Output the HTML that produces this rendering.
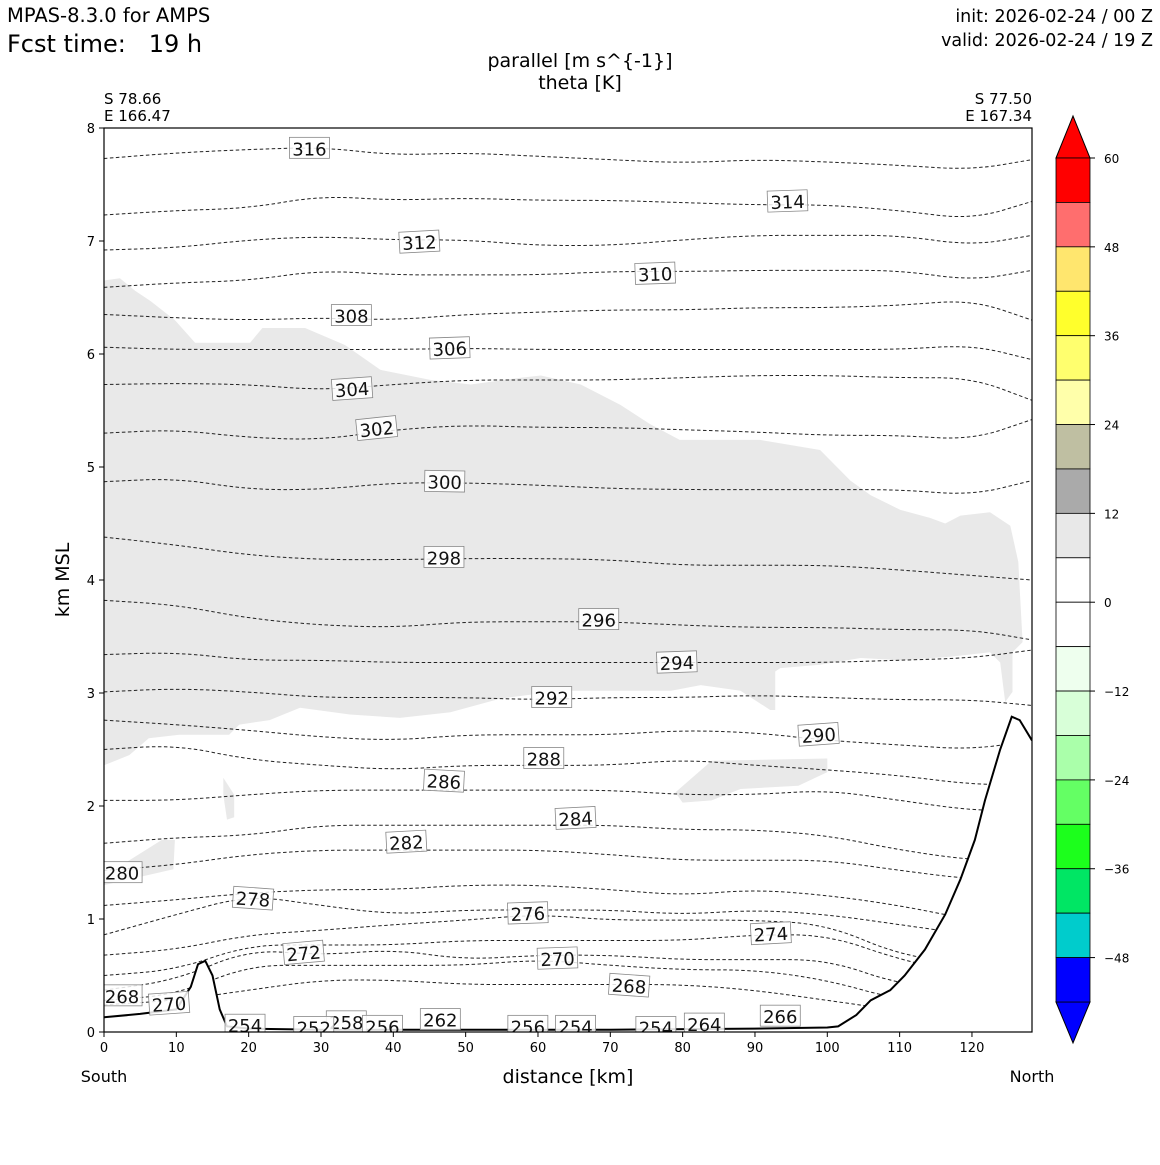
<!DOCTYPE html>
<html><head><meta charset="utf-8"><style>
body{margin:0;background:#fff;}
svg{font-family:"DejaVu Sans","Liberation Sans",sans-serif;}
</style></head><body>
<svg id="fig" width="1160" height="1160" viewBox="0 0 1160 1160">
<rect width="1160" height="1160" fill="#fff"/>
<text x="7" y="22" font-size="19.5">MPAS-8.3.0 for AMPS</text>
<text x="7" y="52" font-size="24" xml:space="preserve">Fcst time:   19 h</text>
<text x="1153" y="22" font-size="17.5" text-anchor="end">init: 2026-02-24 / 00 Z</text>
<text x="1153" y="46" font-size="17.5" text-anchor="end">valid: 2026-02-24 / 19 Z</text>
<text x="580" y="67" font-size="19" text-anchor="middle">parallel [m s^{-1}]</text>
<text x="580" y="89" font-size="19" text-anchor="middle">theta [K]</text>
<text x="104" y="104" font-size="15">S 78.66</text>
<text x="104" y="121" font-size="15">E 166.47</text>
<text x="1032" y="104" font-size="15" text-anchor="end">S 77.50</text>
<text x="1032" y="121" font-size="15" text-anchor="end">E 167.34</text>
<text x="69" y="580" font-size="19" text-anchor="middle" transform="rotate(-90 69 580)">km MSL</text>
<text x="568" y="1083" font-size="19" text-anchor="middle">distance [km]</text>
<text x="104" y="1082" font-size="16" text-anchor="middle">South</text>
<text x="1032" y="1082" font-size="16" text-anchor="middle">North</text>
<g id="plot"></g>
<g id="cbar"></g>
</svg>
<script>
const xKm = [0,10,20,30,40,50,60,70,80,90,100,110,120,128.3];
const thetaLevels = [316,314,312,310,308,306,304,302,300,298,296,294,292,290,288,286,284,282,280,278,276,274,272,270,268];
const thetaHeights = [
[7.73,7.78,7.81,7.83,7.76,7.78,7.75,7.72,7.69,7.72,7.70,7.67,7.63,7.72],
[7.23,7.27,7.29,7.40,7.36,7.38,7.36,7.36,7.34,7.32,7.32,7.27,7.19,7.35],
[6.92,6.94,7.01,7.04,7.01,7.01,6.96,6.96,7.01,7.05,7.05,7.05,6.96,7.05],
[6.59,6.63,6.65,6.74,6.70,6.70,6.70,6.73,6.73,6.74,6.74,6.74,6.65,6.74],
[6.35,6.32,6.30,6.32,6.30,6.35,6.37,6.39,6.39,6.41,6.41,6.43,6.48,6.30],
[6.06,6.04,6.04,6.04,6.04,6.05,6.04,6.04,6.04,6.04,6.04,6.04,6.08,5.95],
[5.73,5.74,5.73,5.68,5.73,5.77,5.77,5.77,5.79,5.81,5.81,5.79,5.79,5.59],
[5.30,5.33,5.26,5.24,5.33,5.37,5.35,5.35,5.33,5.31,5.28,5.28,5.24,5.42],
[4.87,4.90,4.80,4.80,4.86,4.86,4.84,4.81,4.80,4.80,4.80,4.80,4.75,4.88],
[4.38,4.31,4.22,4.18,4.18,4.19,4.19,4.18,4.13,4.13,4.13,4.09,4.04,4.00],
[3.82,3.78,3.66,3.60,3.58,3.63,3.63,3.63,3.60,3.58,3.58,3.56,3.56,3.47],
[3.34,3.36,3.29,3.29,3.27,3.27,3.27,3.27,3.27,3.27,3.27,3.29,3.31,3.38],
[3.01,3.04,3.01,2.96,2.96,2.96,2.94,2.96,2.96,2.98,2.96,2.94,2.94,2.89],
[2.76,2.72,2.67,2.61,2.58,2.63,2.63,2.63,2.67,2.65,2.58,2.54,2.50,2.58],
[2.50,2.54,2.41,2.36,2.32,2.36,2.36,2.36,2.41,2.36,2.32,2.27,2.19,2.19],
[2.05,2.05,2.10,2.14,2.14,2.14,2.14,2.14,2.10,2.10,2.14,2.05,1.96,1.96],
[1.67,1.72,1.74,1.83,1.83,1.83,1.83,1.83,1.79,1.79,1.74,1.61,1.52,1.52],
[1.43,1.48,1.57,1.61,1.61,1.61,1.61,1.57,1.52,1.52,1.52,1.43,1.35,1.35],
[1.12,1.17,1.23,1.26,1.26,1.30,1.30,1.26,1.21,1.26,1.21,1.12,0.99,0.99],
[0.86,1.04,1.21,1.12,1.04,1.08,1.08,1.08,1.04,1.08,1.04,0.95,0.86,0.86],
[0.68,0.73,0.86,0.90,0.95,0.99,1.04,0.99,0.99,0.99,0.95,0.68,0.60,0.60],
[0.50,0.55,0.77,0.77,0.77,0.81,0.81,0.81,0.81,0.86,0.86,0.64,0.50,0.50],
[0.37,0.46,0.73,0.68,0.73,0.64,0.68,0.68,0.64,0.64,0.64,0.42,0.37,0.37],
[0.28,0.33,0.59,0.59,0.59,0.59,0.64,0.59,0.55,0.55,0.46,0.28,0.28,0.28],
[0.24,0.28,0.37,0.46,0.46,0.42,0.42,0.42,0.42,0.37,0.28,0.19,0.19,0.19]
];
const terrainX = [0,5,10,12,13,14,15,16,17,20,30,50,70,90,100,101.5,104,106,108.7,110.7,113.5,116.3,118.4,120.4,121.8,123.9,125.5,126.6,128.3];
const terrainZ = [0.13,0.16,0.2,0.4,0.6,0.63,0.5,0.2,0.05,0.03,0.02,0.02,0.02,0.03,0.04,0.05,0.15,0.28,0.37,0.5,0.73,1.04,1.35,1.7,2.05,2.5,2.79,2.76,2.58];
const shadeX = [0,2.2,4.3,6.4,9.8,12.6,20.2,21.9,27.8,33.3,38.2,45.2,50.7,57.6,60.4,65.9,71.4,75.5,79.6,90.7,99.0,103.2,106.0,110.1,114.2,116.3,118.4,122.5,125.3,126.4,126.7,127.0,125.6,125.6,124.6,123.9,122.5,117.0,110.1,104.6,99.0,93.5,92.8,92.8,92.1,88.0,82.5,78.4,74.2,68.7,63.1,54.8,47.9,40.9,34.0,27.1,22.9,18.7,17.3,10.4,6.2,3.5,0];
const shadeZ = [6.65,6.67,6.56,6.47,6.30,6.10,6.10,6.23,6.23,6.08,5.86,5.77,5.73,5.79,5.81,5.73,5.55,5.38,5.24,5.24,5.15,4.88,4.75,4.62,4.55,4.50,4.57,4.60,4.48,4.16,3.81,3.45,3.36,3.01,2.92,3.27,3.36,3.32,3.29,3.31,3.25,3.22,3.19,2.85,2.85,3.02,3.07,3.02,3.02,3.02,3.02,2.95,2.83,2.78,2.81,2.87,2.76,2.72,2.63,2.63,2.60,2.45,2.36];
const patchAX = [16.5,18.0,18.0,17.0,16.5];
const patchAZ = [2.25,2.1,1.9,1.88,2.1];
const patchBX = [84,100,100,96,88,84,80,79];
const patchBZ = [2.40,2.42,2.30,2.18,2.15,2.05,2.03,2.12];
const patchCX = [0,8,9.8,9.6,0];
const patchCZ = [1.38,1.70,1.70,1.44,1.30];
const labelVals = ["316","314","312","310","308","306","304","302","300","298","296","294","292","290","288","286","284","282","280","278","276","274","272","270","270","268","268","266","264","262","258","256","256","254","254","254","252"];
const labelX = [28.4,94.5,43.6,76.2,34.2,47.8,34.3,37.7,47.1,47.0,68.4,79.2,61.9,98.8,60.8,47.0,65.2,41.8,2.5,20.6,58.6,92.2,27.6,62.7,9.0,72.6,2.5,93.5,83.0,46.5,33.5,38.5,58.6,19.5,65.2,76.3,29.0];
const labelZ = [7.82,7.35,6.99,6.71,6.34,6.05,5.69,5.34,4.87,4.20,3.65,3.27,2.96,2.63,2.42,2.22,1.89,1.68,1.41,1.18,1.05,0.87,0.70,0.65,0.25,0.41,0.32,0.14,0.07,0.11,0.09,0.05,0.05,0.06,0.05,0.04,0.04];
const labelRot = [0,-2,-3,-2,0,-2,-4,-6,1,0,0,-2,0,-4,0,3,-3,-3,0,4,-2,-3,-5,-2,-4,4,0,0,0,0,0,0,0,0,0,0,0];
const xTicks = [0,10,20,30,40,50,60,70,80,90,100,110,120];
const yTicks = [0,1,2,3,4,5,6,7,8];
const cbarColors = ["#ff0000","#ff6e6e","#ffe66e","#ffff2c","#ffff6e","#ffffaa","#bfbfa2","#aaaaaa","#e8e8e8","#ffffff","#ffffff","#eeffee","#d8ffd8","#aaffaa","#64ff64","#1cff1c","#00e664","#00cccc","#0000ff"];
const cbarTicks = ["60","48","36","24","12","0","\u221212","\u221224","\u221236","\u221248"];

const NS="http://www.w3.org/2000/svg";
const X0=104,X1=1032,Y0=1032,Y1=128;
const sx=k=>X0+k*7.233;
const sy=z=>Y0-(z/8)*(Y0-Y1);
const plot=document.getElementById('plot');
function mk(tag,attrs,parent){const e=document.createElementNS(NS,tag);for(const k in attrs)e.setAttribute(k,attrs[k]);(parent||plot).appendChild(e);return e;}
function poly(xs,zs){return xs.map((x,i)=>(i?'L':'M')+sx(x).toFixed(1)+','+sy(zs[i]).toFixed(1)).join('')+'Z';}
function smooth(xs,zs){let d='M'+sx(xs[0])+','+sy(zs[0]);for(let i=1;i<xs.length;i++){const xm=(sx(xs[i-1])+sx(xs[i]))/2;d+=' Q'+sx(xs[i-1])+','+sy(zs[i-1])+' '+xm+','+((sy(zs[i-1])+sy(zs[i]))/2);}d+=' L'+sx(xs[xs.length-1])+','+sy(zs[zs.length-1]);return d;}
const clip=mk('clipPath',{id:'pc'});mk('rect',{x:X0,y:Y1,width:X1-X0,height:Y0-Y1},clip);
const g=mk('g',{'clip-path':'url(#pc)'});
let e=mk('path',{d:poly(shadeX,shadeZ),fill:'#e9e9e9'},g);


[[patchAX,patchAZ],[patchBX,patchBZ],[patchCX,patchCZ]].forEach(p=>{const q=mk('path',{d:poly(p[0],p[1]),fill:'#e9e9e9'},g);

});
thetaLevels.forEach((lv,i)=>{const p=mk('path',{d:smooth(xKm,thetaHeights[i]),fill:'none',stroke:'#222','stroke-width':1,'stroke-dasharray':'3.5,2.5'},g);

});
const tx=terrainX.concat([128.3,0]),tz=terrainZ.concat([-1,-1]);
e=mk('path',{d:poly(tx,tz),fill:'#fff'},g);


e=mk('path',{d:terrainX.map((x,i)=>(i?'L':'M')+sx(x)+','+sy(terrainZ[i])).join(''),fill:'none',stroke:'#000','stroke-width':2},g);


labelVals.forEach((v,i)=>{const cx=sx(labelX[i]),cy=sy(labelZ[i]);
const lg=mk('g',{transform:`rotate(${labelRot[i]} ${cx} ${cy})`},g);


mk('rect',{x:cx-20,y:cy-11,width:40,height:21,fill:'#fff','fill-opacity':0.85,stroke:'#888','stroke-width':0.8},lg);
const t=mk('text',{x:cx,y:cy+7,'font-size':18,'text-anchor':'middle',fill:'#111'},lg);t.textContent=v;});
e=mk('rect',{x:X0,y:Y1,width:X1-X0,height:Y0-Y1,fill:'none',stroke:'#000','stroke-width':1.2});


xTicks.forEach(t=>{mk('line',{x1:sx(t),x2:sx(t),y1:Y0,y2:Y0+5,stroke:'#000'});
const l=mk('text',{x:sx(t),y:Y0+20,'font-size':13,'text-anchor':'middle'});l.textContent=t;

});
yTicks.forEach(t=>{mk('line',{x1:X0-5,x2:X0,y1:sy(t),y2:sy(t),stroke:'#000'});
const l=mk('text',{x:X0-9,y:sy(t)+5,'font-size':13,'text-anchor':'end'});l.textContent=t;

});
const cb=document.getElementById('cbar');
const CX=1056,CW=34,CT=158,CB=1002,bh=(CB-CT)/cbarColors.length;
mk('path',{d:`M${CX},${CT}L${CX+CW/2},116L${CX+CW},${CT}Z`,fill:cbarColors[0],stroke:'#000'},cb);
mk('path',{d:`M${CX},${CB}L${CX+CW/2},1043L${CX+CW},${CB}Z`,fill:cbarColors[cbarColors.length-1],stroke:'#000'},cb);
cbarColors.forEach((c,i)=>{const r=mk('rect',{x:CX,y:CT+i*bh,width:CW,height:bh,fill:c,stroke:'#000','stroke-width':0.8},cb);

});
cbarTicks.forEach((t,i)=>{const y=CT+i*2*bh;mk('line',{x1:CX+CW,x2:CX+CW+5,y1:y,y2:y,stroke:'#000'},cb);
const l=mk('text',{x:1104,y:y+5,'font-size':12},cb);l.textContent=t;

});
</script>
</body></html>
